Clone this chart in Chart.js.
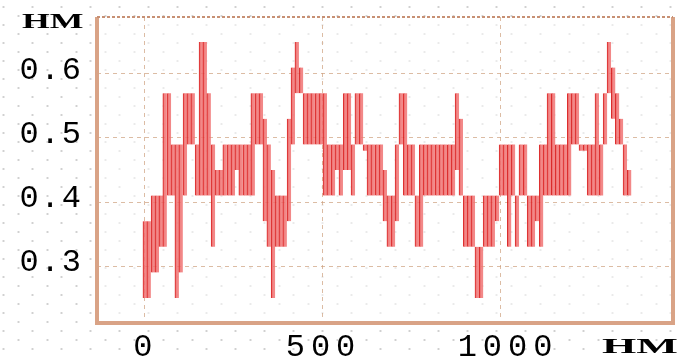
<!DOCTYPE html>
<html>
<head>
<meta charset="utf-8">
<script src="https://cdn.jsdelivr.net/npm/chart.js@4.4.1/dist/chart.umd.min.js"></script>
<style>
  html, body { margin: 0; padding: 0; background: #ffffff; }
  #wrap {
    width: 683px; height: 357px; position: relative;
    background-color: #ffffff;
    background-image:
      radial-gradient(circle, rgba(170,170,170,0.55) 0.9px, transparent 1.3px),
      radial-gradient(circle, rgba(170,170,170,0.55) 0.9px, transparent 1.3px);
    background-size: 29px 18px, 29px 18px;
    background-position: 4px 7px, 18px 16px;
  }
</style>
</head>
<body>
<div id="wrap"><canvas id="c" width="683" height="357"></canvas></div>
<script>
// distance positions of the sampled columns
const xs = [0,11,23,34,45,56,68,79,90,101,
  113,124,135,147,158,169,180,192,203,214,
  225,237,248,259,270,282,293,304,316,327,
  338,349,361,372,383,394,406,417,428,440,
  451,462,473,485,496,507,518,530,541,552,
  564,575,586,597,609,620,631,642,654,665,
  676,687,699,710,721,733,744,755,766,778,
  789,800,811,823,834,845,857,868,879,890,
  902,913,924,935,947,958,969,980,992,1003,
  1014,1026,1037,1048,1059,1071,1082,1093,1104,1116,
  1127,1138,1150,1161,1172,1183,1195,1206,1217,1228,
  1240,1251,1262,1273,1285,1296,1307,1319,1330,1341,
  1352,1364];
// lowest value reached in each column
const lows = [0.25,0.25,0.29,0.29,0.33,0.33,0.41,0.41,0.25,0.29,
  0.41,0.49,0.49,0.41,0.41,0.41,0.41,0.33,0.41,0.41,
  0.41,0.41,0.41,0.45,0.41,0.41,0.41,0.41,0.49,0.49,
  0.37,0.33,0.25,0.33,0.33,0.33,0.37,0.49,0.57,0.57,
  0.49,0.49,0.49,0.49,0.49,0.41,0.41,0.41,0.45,0.41,
  0.45,0.45,0.41,0.49,0.49,0.48,0.41,0.41,0.41,0.41,
  0.37,0.33,0.33,0.37,0.49,0.41,0.41,0.41,0.33,0.33,
  0.41,0.41,0.41,0.41,0.41,0.41,0.41,0.41,0.45,0.41,
  0.33,0.33,0.33,0.25,0.25,0.33,0.33,0.33,0.37,0.41,
  0.41,0.33,0.41,0.33,0.41,0.41,0.33,0.33,0.37,0.33,
  0.41,0.41,0.41,0.41,0.41,0.41,0.41,0.49,0.49,0.48,
  0.48,0.41,0.41,0.41,0.41,0.49,0.57,0.53,0.49,0.49,
  0.41,0.41];
// highest value reached in each column
const highs = [0.37,0.37,0.41,0.41,0.41,0.57,0.57,0.49,0.49,0.49,
  0.57,0.57,0.57,0.49,0.65,0.65,0.57,0.49,0.45,0.45,
  0.49,0.49,0.49,0.49,0.49,0.49,0.49,0.57,0.57,0.57,
  0.53,0.49,0.45,0.41,0.41,0.41,0.53,0.61,0.65,0.61,
  0.57,0.57,0.57,0.57,0.57,0.57,0.49,0.49,0.49,0.49,
  0.57,0.57,0.49,0.57,0.57,0.49,0.49,0.49,0.49,0.49,
  0.45,0.41,0.41,0.49,0.57,0.57,0.49,0.49,0.41,0.49,
  0.49,0.49,0.49,0.49,0.49,0.49,0.49,0.49,0.57,0.53,
  0.41,0.41,0.41,0.33,0.33,0.41,0.41,0.41,0.41,0.49,
  0.49,0.49,0.49,0.41,0.49,0.49,0.41,0.41,0.41,0.49,
  0.49,0.57,0.57,0.49,0.49,0.49,0.57,0.57,0.57,0.49,
  0.49,0.49,0.49,0.57,0.49,0.57,0.65,0.61,0.57,0.53,
  0.49,0.45];

const xTicks = [0, 500, 1000];
const yTicks = [0.3, 0.4, 0.5, 0.6];
const unitLabel = "HM";

const points = xs.map((x, i) => ({ x: x, y: [lows[i], highs[i]] }));

const plotBg = {
  id: 'plotBg',
  beforeDraw(chart) {
    const ctx = chart.ctx, a = chart.chartArea;
    ctx.save();
    ctx.fillStyle = 'rgba(255,255,255,0.55)';
    ctx.fillRect(a.left, a.top, a.right - a.left, a.bottom - a.top);
    ctx.restore();
  }
};

const frameAndText = {
  id: 'frameAndText',
  afterDraw(chart) {
    const ctx = chart.ctx;
    const a = chart.chartArea;
    const xs_ = chart.scales.x, ys_ = chart.scales.y;
    ctx.save();
    // frame
    ctx.strokeStyle = '#d9a386';
    ctx.lineWidth = 4;
    ctx.beginPath();
    ctx.moveTo(a.left, a.top); ctx.lineTo(a.left, a.bottom); ctx.lineTo(a.right, a.bottom); ctx.lineTo(a.right, a.top);
    ctx.stroke();
    ctx.lineWidth = 2;
    ctx.strokeStyle = '#c79074';
    ctx.setLineDash([3, 2]);
    ctx.beginPath();
    ctx.moveTo(a.left, a.top); ctx.lineTo(a.right, a.top);
    ctx.stroke();
    ctx.setLineDash([]);
    // y labels
    ctx.fillStyle = '#000';
    ctx.font = '32px "Liberation Mono"';
    ctx.textAlign = 'right';
    ctx.textBaseline = 'middle';
    try { ctx.letterSpacing = '2px'; } catch (e) {}
    yTicks.forEach(v => {
      ctx.fillText(v.toFixed(1), 83, ys_.getPixelForValue(v) - 3);
    });
    // x labels
    try { ctx.letterSpacing = '6px'; } catch (e) {}
    ctx.textAlign = 'center';
    ctx.textBaseline = 'alphabetic';
    xTicks.forEach(v => {
      const off = v >= 1000 ? 8 : 1;
      ctx.fillText(String(v), xs_.getPixelForValue(v) + off, 356);
    });
    try { ctx.letterSpacing = '0px'; } catch (e) {}
    // unit labels
    ctx.font = 'bold 21px "Liberation Serif"';
    ctx.textAlign = 'left';
    ctx.textBaseline = 'alphabetic';
    ctx.save();
    ctx.translate(22, 28);
    ctx.scale(1.7, 1);
    ctx.fillText(unitLabel, 0, 0);
    ctx.restore();
    ctx.save();
    ctx.translate(602, 353);
    ctx.scale(2.1, 1);
    ctx.fillText(unitLabel, 0, 0);
    ctx.restore();
    ctx.restore();
  }
};

new Chart(document.getElementById('c'), {
  type: 'bar',
  data: {
    datasets: [{
      data: points,
      backgroundColor: 'rgba(240,115,115,0.85)',
      borderColor: 'rgba(215,20,20,0.9)',
      borderWidth: { left: 1, right: 0, top: 0, bottom: 0 },
      borderSkipped: false,
      barThickness: 4,
      grouped: false
    }]
  },
  options: {
    responsive: false,
    animation: false,
    events: [],
    layout: { padding: { left: 0, top: 17, right: 10, bottom: 0 } },
    plugins: { legend: { display: false }, tooltip: { enabled: false } },
    scales: {
      x: {
        type: 'linear',
        offset: false,
        min: -135, max: 1487,
        afterBuildTicks(s) { s.ticks = xTicks.map(v => ({ value: v })); },
        afterFit(s) { s.height = 34; },
        ticks: { display: false },
        grid: { offset: false, color: 'rgba(205,160,125,0.7)', lineWidth: 1, drawTicks: false },
        border: { display: false, dash: [4, 4] }
      },
      y: {
        min: 0.211, max: 0.689,
        afterBuildTicks(s) { s.ticks = yTicks.map(v => ({ value: v })); },
        afterFit(s) { s.width = 97; },
        ticks: { display: false },
        grid: { color: 'rgba(205,160,125,0.7)', lineWidth: 1, drawTicks: false },
        border: { display: false, dash: [4, 4] }
      }
    }
  },
  plugins: [plotBg, frameAndText]
});
</script>
</body>
</html>
